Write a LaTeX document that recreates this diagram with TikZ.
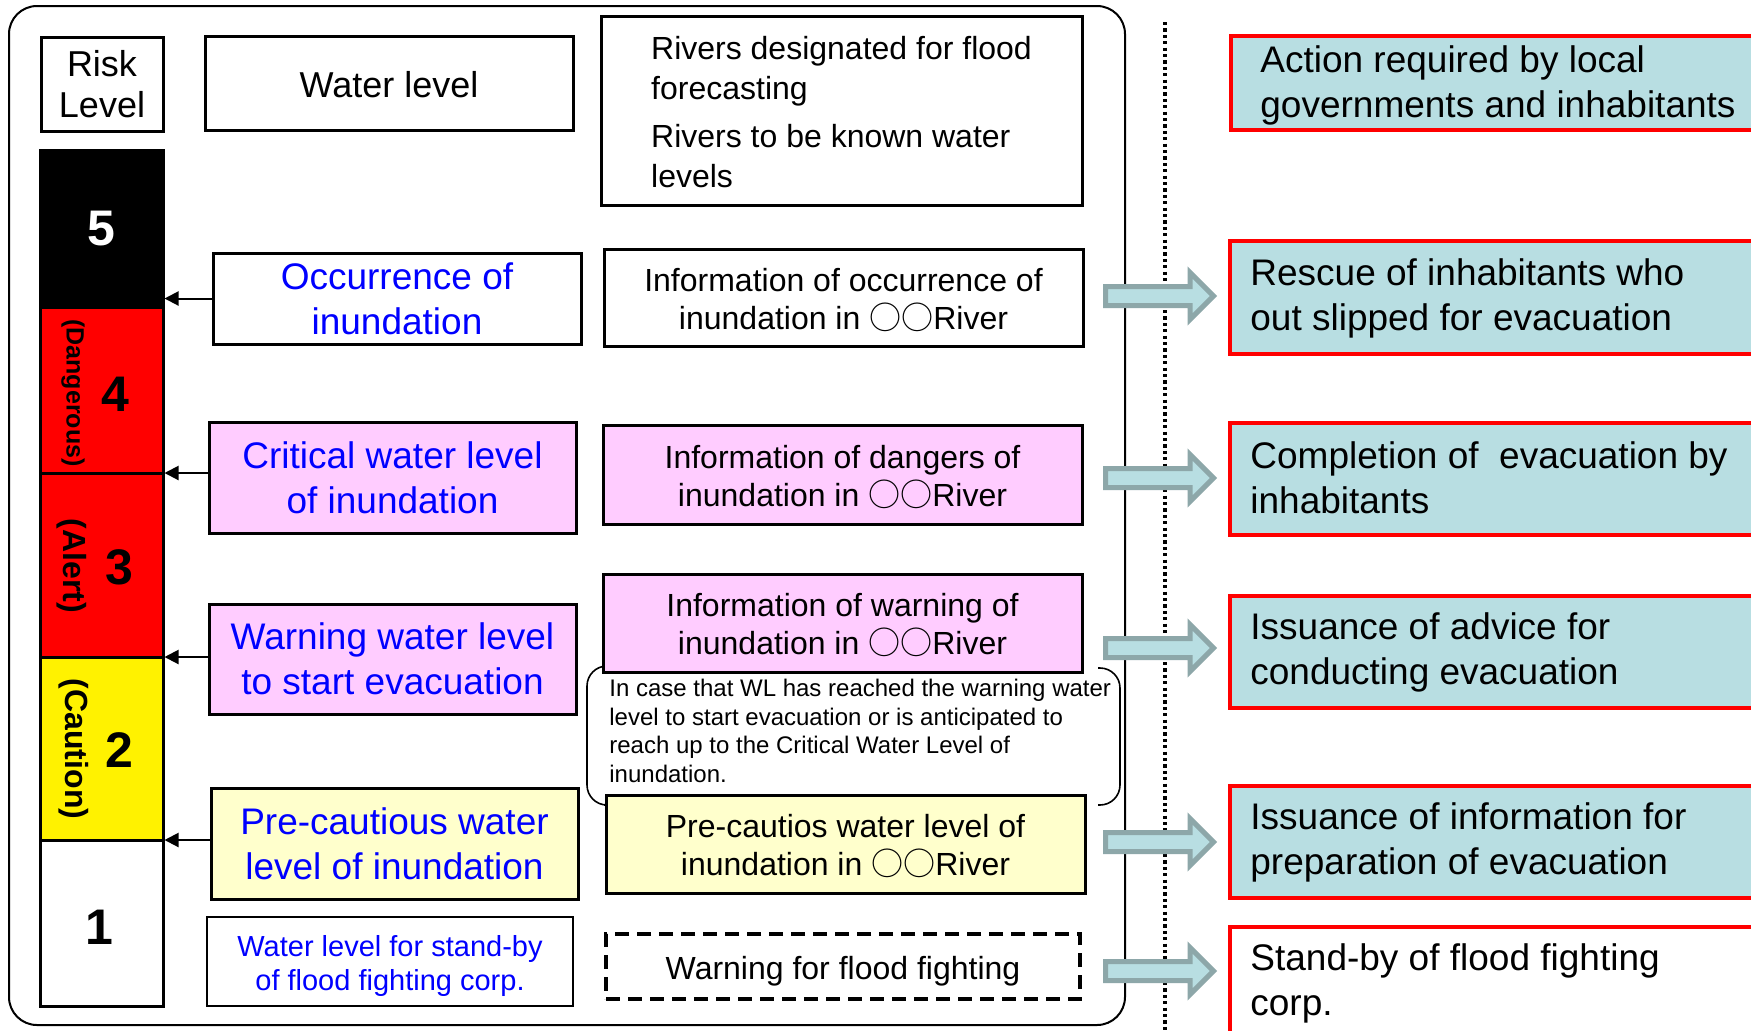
\documentclass[tikz,border=0pt]{standalone}
\usepackage{fontspec}
\setmainfont{Liberation Sans}
\newfontfamily\cjkfont{Noto Sans CJK JP}
\usetikzlibrary{arrows.meta,calc}
\definecolor{pinkf}{HTML}{FFCCFF}
\definecolor{lyel}{HTML}{FFFFCC}
\definecolor{cyanf}{HTML}{B8DEE2}
\definecolor{arrb}{HTML}{8DA7A9}
\newcommand\FBig{\fontsize{18.5}{22.5}\selectfont}
\newcommand\FMid{\fontsize{16}{19}\selectfont}
\newcommand\FSm{\fontsize{14.5}{17}\selectfont}
\newcommand\FTiny{\fontsize{12}{14.4}\selectfont}
\newcommand\FNum{\fontsize{25}{30}\selectfont\bfseries}
\newcommand\OO{{\cjkfont ○○}}
\begin{document}
\begin{tikzpicture}[x=0.5pt,y=-0.5pt,
  box/.style={draw, line width=1.5pt, inner sep=0pt, align=center},
  lbox/.style={box, font=\FBig, text=blue},
  mbox/.style={box},
  mtxt/.style={font=\FMid, align=center, inner sep=0pt},
  seg/.style={draw, line width=1.5pt, inner sep=0pt, minimum width=61.5pt},
  num/.style={font=\FNum, inner sep=0pt},
  vlab/.style={font=\fontsize{16}{19}\selectfont\bfseries, rotate=-90, inner sep=0pt},
  rbox/.style={draw=red, fill=cyanf, line width=2pt, inner sep=0pt, minimum width=270.5pt},
  rtxt/.style={font=\FBig, align=left, inner sep=0pt},
  tip/.style={line width=1pt, -{Triangle[length=7pt,width=7pt]}},
  blockarrow/.style={draw=arrb, fill=cyanf, line width=2.5pt, line join=miter}
]
\clip (0,0) rectangle (1751,1030);
\fill[white] (0,0) rectangle (1751,1030);

% outer frame and dotted divider
\draw[line width=1pt, rounded corners=14pt] (9,6) rectangle (1125,1025);
\coordinate (dtop) at (1165,22);
\coordinate (dbot) at (1165,1032);
\draw[line width=1.7pt, dash pattern=on 1.6pt off 1.6pt] (dtop) -- (dbot);

% header boxes
\node[box, font=\fontsize{18}{20.5}\selectfont, minimum width=61pt, minimum height=47pt] (risk) at (102,84) {Risk\\Level};
\node[box, minimum width=184pt, minimum height=47pt] (wl) at (389,83) {};
\node[font=\fontsize{18}{21}\selectfont, inner sep=0pt] (wlT) at (389,85) {Water level};
\node[box, minimum width=240.5pt, minimum height=94.5pt] (rivers) at (841.5,110.5) {};
\node[font=\fontsize{16}{20}\selectfont, align=left, inner sep=0pt] (riversT) at (841.5,112.5)
  {Rivers designated for flood\\forecasting\\[4pt]Rivers to be known water\\levels};

% risk bar
\node[seg, fill=black, minimum height=78.5pt] (b5) at (101.5,228.5) {};
\node[seg, fill=red, minimum height=83pt] (b4) at (101.5,390) {};
\node[seg, fill=red, minimum height=92pt] (b3) at (101.5,565) {};
\node[seg, fill=yellow, minimum height=91.5pt] (b2) at (101.5,748.5) {};
\node[seg, fill=white, minimum height=83pt] (b1) at (101.5,923) {};

\node[num, text=white] (n5) at (101,229) {5};
\node[num] (n4) at (115,394) {4};
\node[num] (n3) at (119,567) {3};
\node[num] (n2) at (119,750) {2};
\node[num] (n1) at (99,927) {1};
\node[vlab, font=\fontsize{12.5}{14}\selectfont\bfseries] (lDang) at (73,393) {(Dangerous)};
\node[vlab] (lAlert) at (72,566) {(Alert)};
\node[vlab] (lCaut) at (74,749) {(Caution)};

% left boxes
\node[lbox, fill=white, minimum width=184pt, minimum height=45.5pt] (occ) at (397,298.5) {Occurrence of\\inundation};
\node[lbox, fill=pinkf, minimum width=183.5pt, minimum height=55.5pt] (crit) at (392.5,477.5) {Critical water level\\of inundation};
\node[lbox, fill=pinkf, minimum width=183.5pt, minimum height=55pt] (warn) at (392.5,659) {Warning water level\\to start evacuation};
\node[lbox, fill=lyel, minimum width=183.5pt, minimum height=55.5pt] (prec) at (394.5,843.5) {Pre-cautious water\\level of inundation};
\node[box, line width=0.8pt, minimum width=183pt, minimum height=44.5pt] (stand) at (390,961.5) {};
\node[font=\FSm, text=blue, align=center, inner sep=0pt] (standT) at (390,965.5) {Water level for stand-by\\of flood fighting corp.};

\draw[tip] (occ.west) -- (occ.west -| b5.east);
\draw[tip] ($(crit.west)+(0,-4.5)$) -- ($(crit.west -| b4.east)+(0,-4.5)$);
\draw[tip] ($(warn.west)+(0,-2)$) -- ($(warn.west -| b3.east)+(0,-2)$);
\draw[tip] ($(prec.west)+(0,-3.5)$) -- ($(prec.west -| b2.east)+(0,-3.5)$);

% callout bracket
\coordinate (cbl1) at (604,666);
\coordinate (cbl2) at (587,666);
\coordinate (cbl3) at (587,805);
\coordinate (cbl4) at (604,805);
\coordinate (cbr1) at (1098,668);
\coordinate (cbr2) at (1120,668);
\coordinate (cbr3) at (1120,805);
\coordinate (cbr4) at (1098,805);
\draw[line width=0.8pt, rounded corners=10pt] (cbl1) -- (cbl2) -- (cbl3) -- (cbl4);
\draw[line width=0.8pt, rounded corners=10pt] (cbr1) -- (cbr2) -- (cbr3) -- (cbr4);
\node[font=\FTiny, align=left, inner sep=0pt, anchor=west] (note) at (609,731)
  {In case that WL has reached the warning water\\level to start evacuation or is anticipated to\\reach up to the Critical Water Level of\\inundation.};

% middle boxes
\node[mbox, fill=white, minimum width=239.5pt, minimum height=48.5pt] (i1) at (843.5,297.5) {};
\node[mtxt] (i1T) at (843.5,300) {Information of occurrence of\\inundation in \OO River};
\node[mbox, fill=pinkf, minimum width=239.5pt, minimum height=49.5pt] (i2) at (842.5,474.5) {};
\node[mtxt] (i2T) at (842.5,477) {Information of dangers of\\inundation in \OO River};
\node[mbox, fill=pinkf, minimum width=239.5pt, minimum height=49pt] (i3) at (842.5,623) {};
\node[mtxt] (i3T) at (842.5,625) {Information of warning of\\inundation in \OO River};
\node[mbox, fill=lyel, minimum width=239.5pt, minimum height=49pt] (i4) at (845.5,844) {};
\node[mtxt] (i4T) at (845.5,846.5) {Pre-cautios water level of\\inundation in \OO River};
\node[mbox, line width=1.7pt, dash pattern=on 7pt off 4pt, minimum width=237pt, minimum height=32.5pt] (i5) at (843,966.5) {};
\node[mtxt] (i5T) at (843,971) {Warning for flood fighting};

% block arrows
\foreach \c in {296,478,648,842,971}{
  \draw[blockarrow] (1105.5,{\c-9.5}) -- (1190,{\c-9.5}) -- (1190,{\c-23.5}) -- (1213.5,\c)
     -- (1190,{\c+23.5}) -- (1190,{\c+9.5}) -- (1105.5,{\c+9.5}) -- cycle;
}

% right boxes
\node[rbox, minimum height=47pt, anchor=north west] (act) at (1229,34) {};
\node[rtxt, anchor=west] (actT) at (1260,85.5) {Action required by local\\governments and inhabitants};
\node[rbox, minimum height=56.5pt, anchor=north west] (resc) at (1228,239) {};
\node[rtxt, anchor=west] (rescT) at (1250,298.5) {Rescue of inhabitants who\\out slipped for evacuation};
\node[rbox, minimum height=56pt, anchor=north west] (comp) at (1228,421) {};
\node[rtxt, anchor=west] (compT) at (1250,477.5) {Completion of~ evacuation by\\inhabitants};
\node[rbox, minimum height=56pt, anchor=north west] (adv) at (1228,594) {};
\node[rtxt, anchor=west] (advT) at (1250,652) {Issuance of advice for\\conducting evacuation};
\node[rbox, minimum height=56pt, anchor=north west] (inf) at (1228,784) {};
\node[rtxt, anchor=west] (infT) at (1250,842.5) {Issuance of information for\\preparation of evacuation};
\node[rbox, fill=white, minimum height=60pt, anchor=north west] (stby) at (1228,925) {};
\node[rtxt, anchor=west] (stbyT) at (1250,983.5) {Stand-by of flood fighting\\corp.};
\end{tikzpicture}
\end{document}
